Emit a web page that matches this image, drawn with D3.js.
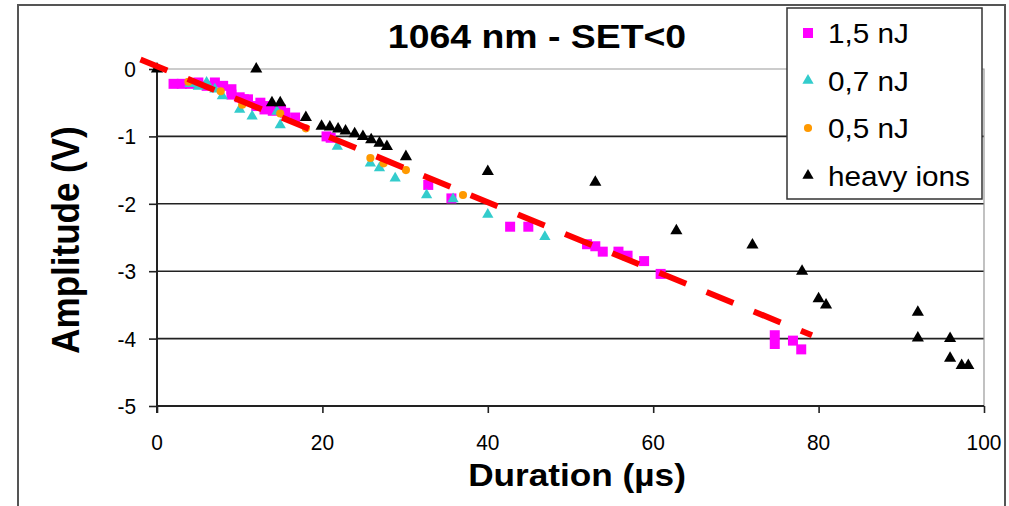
<!DOCTYPE html>
<html>
<head>
<meta charset="utf-8">
<script src="https://cdn.jsdelivr.net/npm/d3@7"></script>
<style>
  html, body { margin: 0; padding: 0; background: #fff; }
  svg { display: block; font-family: "Liberation Sans", Arial, sans-serif; }
</style>
</head>
<body>
<svg id="chart" width="1009" height="506"></svg>
<script>
// Axis ticks
const durationTicks = [0, 20, 40, 60, 80, 100];
const amplitudeTicks = [0, -1, -2, -3, -4, -5];

// 1,5 nJ laser pulses
const nj15Duration  = [2, 3, 4, 5, 6, 7, 8, 9, 9, 10, 10.5, 11, 12, 12.5, 13, 13.5, 14, 15, 15.5, 16.7, 20.5, 21, 32.8, 35.6, 42.7, 44.9, 52, 53, 53.9, 55.8, 56.9, 58.9, 60.9, 74.7, 74.7, 76.9, 77.9];
const nj15Amplitude = [-0.22, -0.22, -0.22, -0.2, -0.25, -0.2, -0.25, -0.3, -0.38, -0.42, -0.45, -0.45, -0.55, -0.5, -0.6, -0.55, -0.62, -0.6, -0.65, -0.72, -1.0, -1.02, -1.72, -1.92, -2.34, -2.34, -2.6, -2.63, -2.71, -2.71, -2.77, -2.85, -3.04, -3.95, -4.08, -4.03, -4.16];

// 0,7 nJ laser pulses
const nj07Duration  = [4, 5, 6, 7, 7.9, 10, 11.5, 14.5, 14.9, 21.8, 25.8, 26.9, 28.8, 32.6, 35.8, 40, 46.9];
const nj07Amplitude = [-0.22, -0.26, -0.2, -0.3, -0.4, -0.6, -0.7, -0.63, -0.83, -1.15, -1.4, -1.47, -1.62, -1.87, -1.93, -2.16, -2.49];

// 0,5 nJ laser pulses
const nj05Duration  = [3.8, 7.7, 10.3, 14.9, 18, 25.8, 27.4, 30.1, 37];
const nj05Amplitude = [-0.19, -0.33, -0.53, -0.66, -0.88, -1.32, -1.4, -1.5, -1.87];

// Heavy ion strikes
const ionDuration  = [0, 12, 13.9, 14.9, 18, 19.9, 20.9, 21.9, 22.8, 23.9, 24.9, 25.9, 26.9, 27.8, 30.1, 40, 53, 62.8, 72, 78, 80, 80.9, 92, 92, 95.9, 95.9, 97.3, 98.1];
const ionAmplitude = [0, 0, -0.5, -0.5, -0.72, -0.85, -0.86, -0.89, -0.92, -0.96, -1.0, -1.05, -1.1, -1.15, -1.3, -1.52, -1.68, -2.4, -2.61, -3.0, -3.41, -3.5, -3.61, -3.99, -4.0, -4.29, -4.4, -4.4];

// Linear trend of the laser data: amplitude = intercept + slope * duration
const trendIntercept = 0.04;
const trendSlope = -0.0504;
const trendRange = [-2, 79.2];

const svg = d3.select("#chart");
const plot = { left: 157, right: 984, top: 69, bottom: 406 };
const stretch = 1.1; // text is drawn slightly wide

const x = d3.scaleLinear().domain([0, 100]).range([plot.left, plot.right]);
const y = d3.scaleLinear().domain([-5, 0]).range([plot.bottom, plot.top]);

// Outer chart frame
svg.append("rect")
  .attr("x", 18).attr("y", 5).attr("width", 987).attr("height", 520)
  .attr("fill", "#fff").attr("stroke", "#555").attr("stroke-width", 2);

// Horizontal gridlines
svg.append("g")
  .selectAll("line")
  .data(amplitudeTicks.filter(d => d !== 0 && d !== -5))
  .join("line")
  .attr("x1", plot.left).attr("x2", plot.right)
  .attr("y1", d => y(d)).attr("y2", d => y(d))
  .attr("stroke", "#222").attr("stroke-width", 1.6);

// Plot area border (top and right)
svg.append("path")
  .attr("d", `M${plot.left},${plot.top}H${plot.right}V${plot.bottom}`)
  .attr("fill", "none").attr("stroke", "#999").attr("stroke-width", 1.2);

// Text helper: positioned, stretched horizontally
function label(parent, tx, ty, text, opts = {}) {
  const sx = opts.stretch || stretch;
  const g = parent.append("g")
    .attr("transform", `translate(${tx},${ty}) scale(${sx},1)` + (opts.rotate ? ` rotate(${opts.rotate})` : ""));
  return g.append("text")
    .attr("text-anchor", opts.anchor || "middle")
    .attr("dy", opts.dy || 0)
    .attr("font-size", opts.size || 21)
    .attr("font-weight", opts.weight || "normal")
    .attr("fill", "#000")
    .text(text);
}

// Y axis
const yAxis = svg.append("g")
  .attr("transform", `translate(${plot.left},0)`)
  .call(d3.axisLeft(y).tickValues(amplitudeTicks).tickSize(8).tickFormat(""));
yAxis.select(".domain").attr("d", `M0,${plot.top}V${plot.bottom + 7}`).attr("stroke", "#222").attr("stroke-width", 2);
yAxis.selectAll(".tick line").attr("stroke", "#222").attr("stroke-width", 1.6);
amplitudeTicks.forEach(t => label(svg, 136, y(t), String(t), { anchor: "end", dy: "0.36em", size: 22, stretch: 0.95 }));

// X axis
const xAxis = svg.append("g")
  .attr("transform", `translate(0,${plot.bottom})`)
  .call(d3.axisBottom(x).tickValues(durationTicks).tickSize(7).tickFormat(""));
xAxis.select(".domain").attr("d", `M${plot.left},0H${plot.right}`).attr("stroke", "#222").attr("stroke-width", 2);
xAxis.selectAll(".tick line").attr("stroke", "#222").attr("stroke-width", 1.6);
durationTicks.forEach(t => label(svg, x(t), 450, String(t), { size: 22, stretch: 0.95 }));

// Titles
label(svg, 537, 48, "1064 nm - SET<0", { size: 34, weight: "bold" });
label(svg, 577, 486, "Duration (µs)", { size: 32, weight: "bold" });
label(svg, 79, 240, "Amplitude (V)", { size: 35, weight: "bold", rotate: -90 });

// Series definitions
const series = [
  { name: "1,5 nJ", xs: nj15Duration, ys: nj15Amplitude, color: "#ff00ff", shape: d3.symbolSquare, size: 100, legendSize: 100 },
  { name: "0,7 nJ", xs: nj07Duration, ys: nj07Amplitude, color: "#33cccc", shape: d3.symbolTriangle, size: 55, legendSize: 55 },
  { name: "0,5 nJ", xs: nj05Duration, ys: nj05Amplitude, color: "#ff9900", shape: d3.symbolCircle, size: 52, legendSize: 52 },
  { name: "heavy ions", xs: ionDuration, ys: ionAmplitude, color: "#000000", shape: d3.symbolTriangle, size: 64, legendSize: 55 }
];

const marks = svg.append("g");
series.forEach(s => {
  const pts = s.xs.map((d, i) => [d, s.ys[i]]);
  marks.append("g")
    .selectAll("path")
    .data(pts)
    .join("path")
    .attr("transform", d => `translate(${x(d[0])},${y(d[1])})`)
    .attr("d", d3.symbol().type(s.shape).size(s.size))
    .attr("fill", s.color);
});

// Trend line
const trendPts = trendRange.map(d => [d, trendIntercept + trendSlope * d]);
svg.append("path")
  .attr("d", d3.line().x(d => x(d[0])).y(d => y(d[1]))(trendPts))
  .attr("fill", "none")
  .attr("stroke", "#ff0000")
  .attr("stroke-width", 6)
  .attr("stroke-dasharray", "29,22");

// Legend
const legend = svg.append("g");
legend.append("rect")
  .attr("x", 787).attr("y", 8).attr("width", 195).attr("height", 191)
  .attr("fill", "#fff").attr("stroke", "#333").attr("stroke-width", 1.5);
series.forEach((s, i) => {
  const by = 43 + i * 47.5;
  legend.append("path")
    .attr("transform", `translate(808,${by - 10})`)
    .attr("d", d3.symbol().type(s.shape).size(s.legendSize))
    .attr("fill", s.color);
  label(legend, 828, by, s.name, { anchor: "start", size: 27 });
});
</script>
</body>
</html>
